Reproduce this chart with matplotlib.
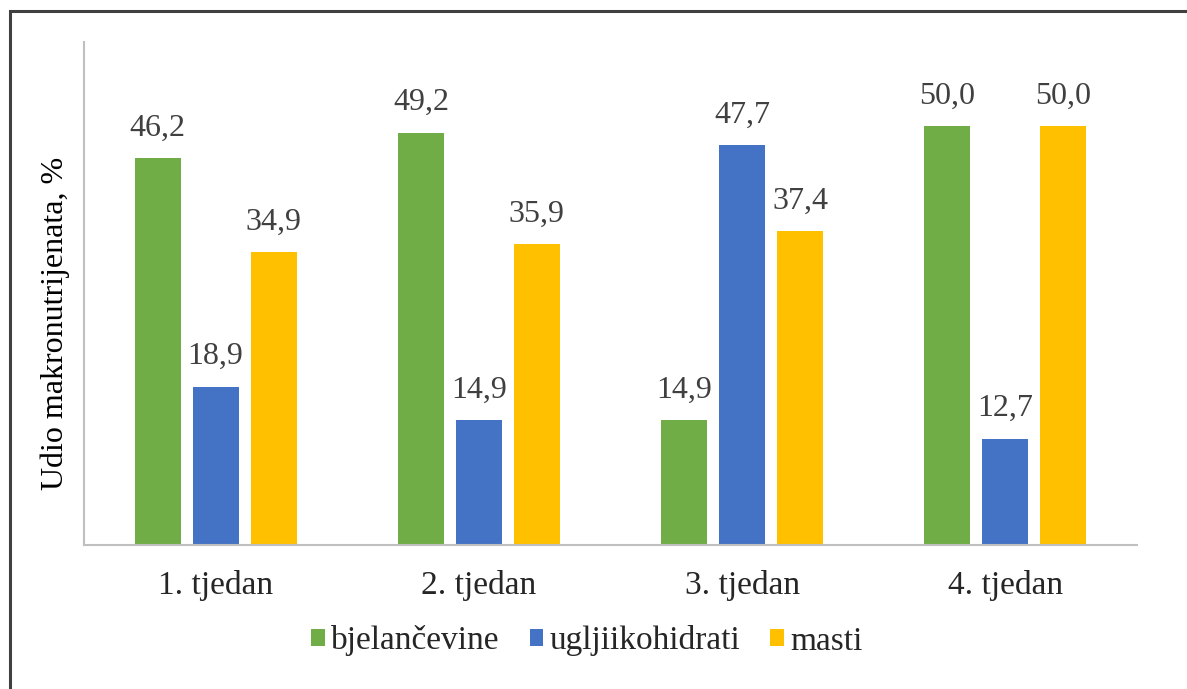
import matplotlib.pyplot as plt
import numpy as np
from matplotlib.patches import Rectangle

plt.rcParams['font.family'] = ['Liberation Serif', 'DejaVu Serif']

weeks = ['1. tjedan', '2. tjedan', '3. tjedan', '4. tjedan']
series_names = ['bjelančevine', 'ugljiikohidrati', 'masti']
bjelancevine = [46.2, 49.2, 14.9, 50.0]
ugljikohidrati = [18.9, 14.9, 47.7, 12.7]
masti = [34.9, 35.9, 37.4, 50.0]
colors = ['#70AD47', '#4472C4', '#FFC000']

fig = plt.figure(figsize=(11.87, 6.89), dpi=100)
ax = fig.add_axes([84/1187, 1-545/689, (1137-84)/1187, (545-42)/689])

x = np.arange(len(weeks))
width = 0.175
offsets = [-0.22, 0, 0.22]
for vals, name, col, off in zip([bjelancevine, ugljikohidrati, masti], series_names, colors, offsets):
    bars = ax.bar(x + off, vals, width, color=col, label=name)
    for b, v in zip(bars, vals):
        ax.annotate(f'{v:.1f}'.replace('.', ','), (b.get_x() + b.get_width()/2, v),
                    xytext=(0, 11), textcoords='offset points', ha='center', va='bottom',
                    fontsize=23, color='#404040')

ax.set_xlim(-0.5, 3.5)
ax.set_ylim(0, 60)
ax.set_xticks(x)
ax.set_xticklabels(weeks, fontsize=24, color='#262626')
ax.set_yticks([])
ax.tick_params(axis='x', length=0, pad=18)
for s in ['top', 'right']:
    ax.spines[s].set_visible(False)
ax.spines['left'].set_color('#BFBFBF')
ax.spines['bottom'].set_color('#BFBFBF')
ax.spines['left'].set_linewidth(1.5)
ax.spines['bottom'].set_linewidth(1.5)

fig.text(55/1187, 1-323/689, 'Udio makronutrijenata, %', rotation=90,
         ha='center', va='center', fontsize=23, color='#000000')

fig.legend(loc='center', bbox_to_anchor=(587/1187, 1-641/689), ncol=3, frameon=False,
           fontsize=24, handlelength=0.4, handleheight=0.4, handletextpad=0.2,
           columnspacing=0.9, labelcolor='#262626')

fig.patches.append(Rectangle((10/1187, -0.1), 1.2, (1-11/689) + 0.1, transform=fig.transFigure,
                             fill=False, edgecolor='#404040', linewidth=2.2))

fig.savefig('out.png', dpi=100)
